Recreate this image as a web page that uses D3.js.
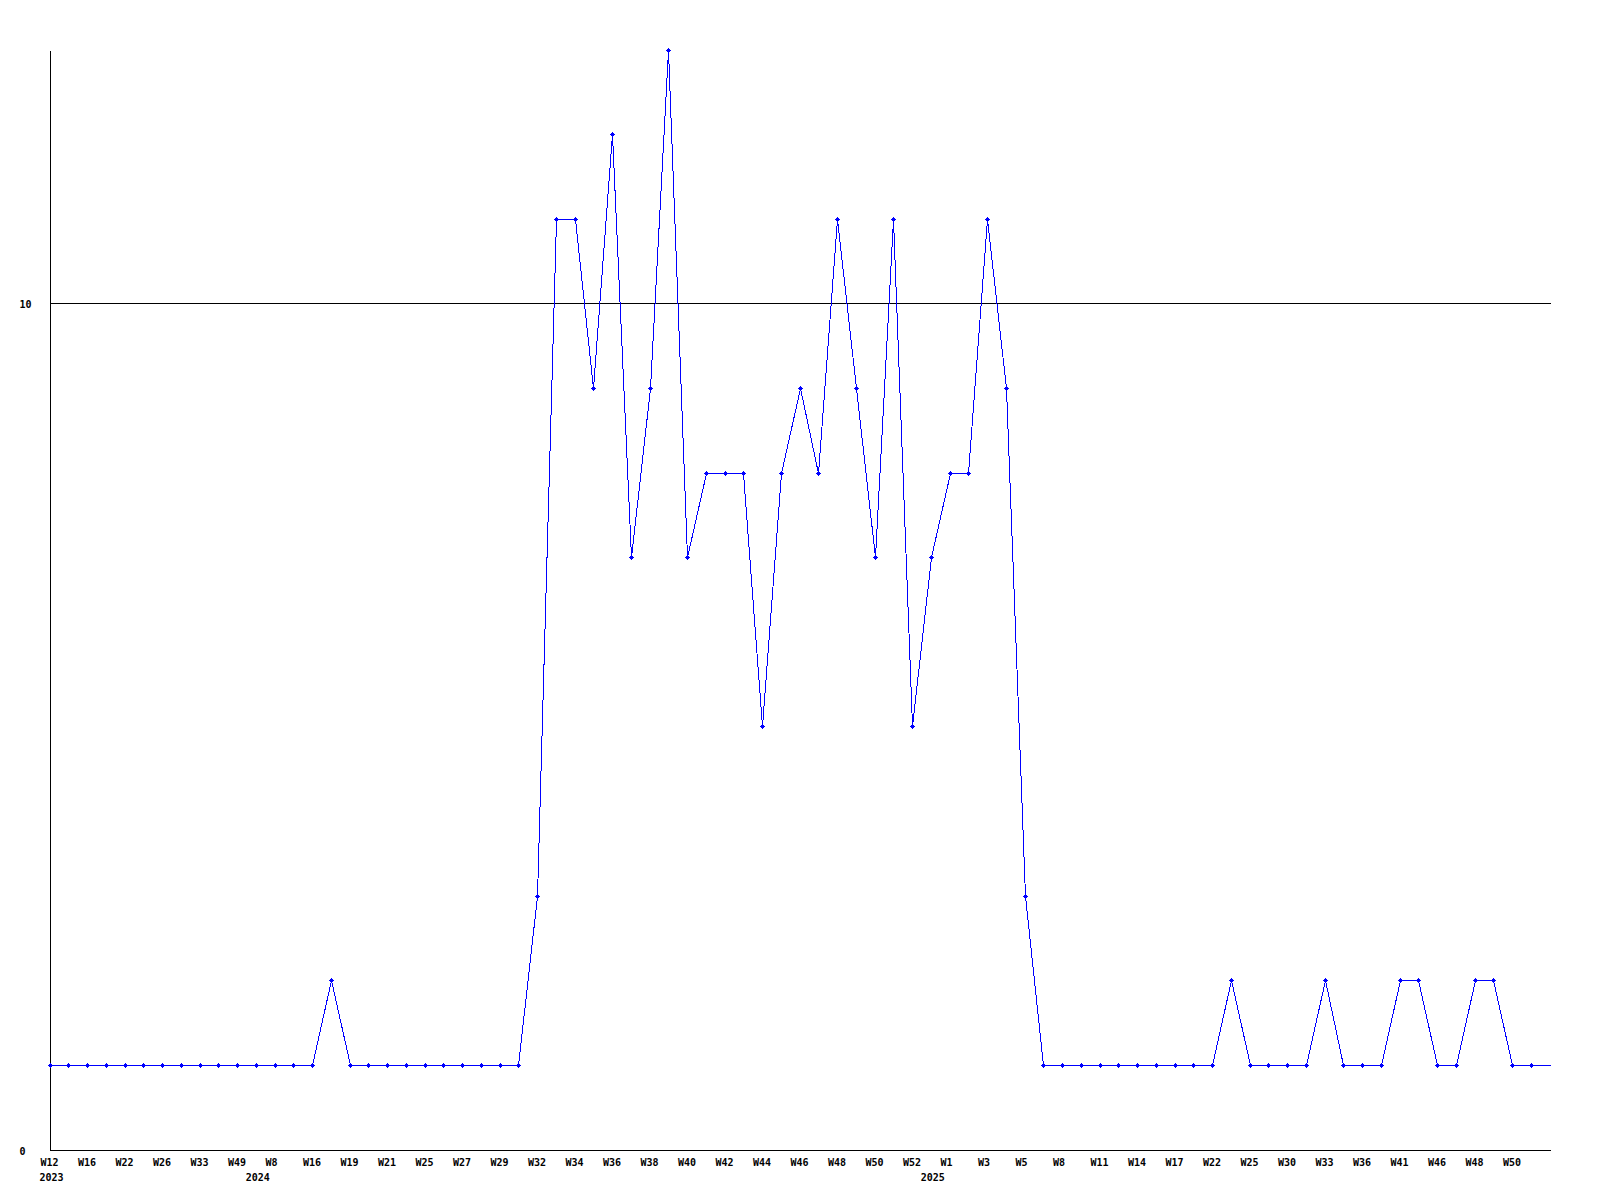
<!DOCTYPE html>
<html>
<head>
<meta charset="utf-8">
<script src="https://cdn.jsdelivr.net/npm/d3@7"></script>
<style>
  body { margin: 0; background: #fff; }
  text { font-family: "DejaVu Sans Mono", "Liberation Mono", monospace; font-size: 10px; font-weight: bold; fill: #000; }
</style>
</head>
<body>
<div id="chart"></div>
<script>
// weekly counts, one entry per week that has data
var weeks = ["W12","W14","W16","W19","W22","W24","W26","W30","W33","W40","W49",
  "W0","W8","W12","W16","W17","W19","W20","W21","W23","W25","W26","W27","W28","W29","W31",
  "W32","W33","W34","W35","W36","W37","W38","W39","W40","W41","W42","W43","W44","W45","W46","W47","W48","W49","W50","W51","W52",
  "W0","W1","W2","W3","W4","W5","W6","W8","W9","W11","W12","W14","W15","W17","W19","W22","W23","W25","W27","W30","W31","W33","W34","W36","W38","W41","W43","W46","W47","W48","W49","W50","W51","W52"]

var counts = [1,1,1,1,1,1,1,1,1,1,1,1,1,1,1,2,1,1,1,1,1,1,1,1,1,1,
  3,11,11,9,12,7,9,13,7,8,8,8,5,8,9,8,11,9,7,11,5,7,8,8,11,9,3,
  1,1,1,1,1,1,1,1,1,1,2,1,1,1,1,2,1,1,1,2,2,1,1,2,2,1,1,1]

var yearLabels = ["2023", "2024", "2025"]
var yearFirstWeek = [0, 11, 47]   // index into weeks where each year starts

var yTicks = [0, 10]

// Chart dimensions
var width = 1600, height = 1200
var plotLeft = 50, plotRight = 1550, plotTop = 50, plotBottom = 1150

var svg = d3.select("#chart").append("svg")
    .attr("width", width)
    .attr("height", height)

var xScale = d3.scalePoint().domain(d3.range(weeks.length)).range([plotLeft, plotRight])
var yScale = d3.scaleLinear().domain([0, 13]).range([plotBottom, plotTop])

// snap to whole pixels like the original renderer
function px(v){ return Math.floor(v) + 0.5 }

// y axis with the gridline at 10
var yAxis = d3.axisLeft(yScale).tickValues(yTicks).tickSizeInner(-(plotRight - plotLeft + 1)).tickSizeOuter(0).tickFormat(d3.format("d"))
var yA = svg.append("g").attr("transform", "translate(" + plotLeft + ",0)").call(yAxis)
yA.selectAll(".tick").attr("transform", function(d){ return "translate(0," + px(yScale(d)) + ")" })
yA.selectAll("path, line").attr("stroke", "#000").attr("shape-rendering", "crispEdges")
yA.selectAll("text").attr("text-anchor", "start").attr("x", -30.5).attr("dy", 4)

// week labels, every second week
var xAxis = d3.axisBottom(xScale)
    .tickValues(d3.range(0, weeks.length - 1, 2))
    .tickSize(0)
    .tickFormat(function(i){ return weeks[i] })
var xA = svg.append("g").attr("transform", "translate(0," + plotBottom + ")").call(xAxis)
xA.select(".domain").remove()
xA.selectAll("text").attr("text-anchor", "start").attr("x", -10).attr("y", 16).attr("dy", null)

// year labels under the first week of each year
var yearAxis = d3.axisBottom(xScale)
    .tickValues(yearFirstWeek)
    .tickSize(0)
    .tickFormat(function(i){ return yearLabels[yearFirstWeek.indexOf(i)] })
var yrA = svg.append("g").attr("transform", "translate(0," + plotBottom + ")").call(yearAxis)
yrA.select(".domain").remove()
yrA.selectAll("text").attr("text-anchor", "start").attr("x", -11).attr("y", 31).attr("dy", null)

var line = d3.line()
    .x(function(d, i){ return px(xScale(i)) })
    .y(function(d){ return px(yScale(d)) })

svg.append("path")
    .attr("d", line(counts))
    .attr("fill", "none")
    .attr("stroke", "#0000ff")
    .attr("stroke-width", 1)
    .attr("shape-rendering", "crispEdges")

// small diamond markers (last, still open week has none)
function marker(x, y){
  x = Math.floor(x); y = Math.floor(y)
  return "M" + (x - 2) + "," + y + "h5v1h-5z" +
         "M" + x + "," + (y - 2) + "h1v5h-1z" +
         "M" + (x - 1) + "," + (y - 1) + "h3v3h-3z"
}
var pts = counts.slice(0, counts.length - 1)
svg.append("g").selectAll("path")
    .data(pts)
    .enter().append("path")
    .attr("d", function(d, i){ return marker(xScale(i), yScale(d)) })
    .attr("fill", "#0000ff")
    .attr("shape-rendering", "crispEdges")
</script>
</body>
</html>
